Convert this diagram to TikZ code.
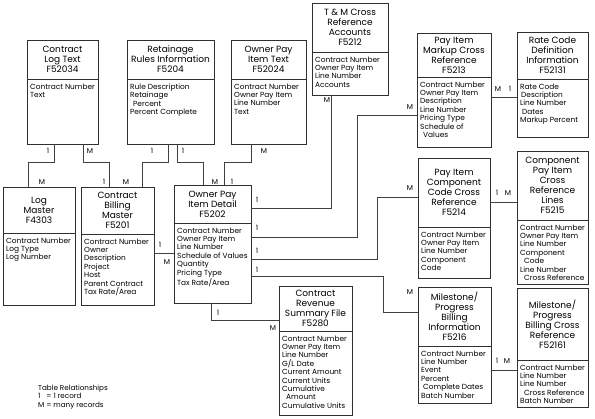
\documentclass[tikz,border=0pt]{standalone}
\usepackage{fontspec}
\setsansfont{Poppins}
\usepackage{xcolor}
\definecolor{Border}{HTML}{303030}
\definecolor{Wire}{HTML}{404040}
\usepackage{tikz}
\tikzset{
  every picture/.style={font={\sffamily}, >=stealth},
  tablebox/.style={draw=Border, line width=0.7pt, anchor=north west, inner sep=0pt, outer sep=0pt},
  tableline/.style={draw=Border, line width=0.7pt},
  tabletitle/.style={align=center, inner sep=0pt, font={\sffamily\fontsize{9}{10}\selectfont}},
  tablefields/.style={anchor=north west, align=left, inner xsep=3pt, inner ysep=4.5pt, font={\sffamily\fontsize{7.4}{8.4}\selectfont}},
  wire/.style={draw=Wire, line width=0.6pt},
  card/.style={inner sep=0pt, font={\sffamily\fontsize{7.2}{8}\selectfont}}}

% name, x, y, width, title height, height, title, fields
\newcommand{\dbtable}[8]{%
  \node[tablebox, minimum width=#4pt, minimum height=#6pt] (#1) at (#2,#3) {};
  \draw[tableline] ([yshift=-#5pt]#1.north west) -- ([yshift=-#5pt]#1.north east);
  \node[tabletitle] (#1-title) at ([yshift=-#5pt/2]#1.north) {#7};
  \node[tablefields] (#1-fields) at ([yshift=-#5pt]#1.north west) {#8};
}

\begin{document}
\begin{tikzpicture}[x=1pt, y=-1pt]
    \useasboundingbox (0,0) rectangle (595,419);

    % top row
    \dbtable{clt}{27}{40}{71}{39}{104}{Contract\\Log Text\\F52034}
      {Contract Number\\Text}
    \dbtable{rri}{127}{40}{87}{39}{104}{Retainage\\Rules Information\\F5204}
      {Rule Description\\Retainage\\\hspace*{3pt}Percent\\Percent Complete}
    \dbtable{opit}{231}{40}{75}{39}{104}{Owner Pay\\Item Text\\F52024}
      {Contract Number\\Owner Pay Item\\Line Number\\Text}
    \dbtable{tmx}{312}{3}{76}{49}{92}{T \& M Cross\\Reference\\Accounts\\F5212}
      {Contract Number\\Owner Pay Item\\Line Number\\Accounts}
    \dbtable{pim}{417}{33}{74}{44}{114}{Pay Item\\Markup Cross\\Reference\\F5213}
      {Contract Number\\Owner Pay Item\\Description\\Line Number\\Pricing Type\\Schedule of\\\hspace*{3pt}Values}
    \dbtable{rcd}{517}{32}{71}{47}{105}{Rate Code\\Definition\\Information\\F52131}
      {Rate Code\\\hspace*{1pt}Description\\Line Number\\\hspace*{2pt}Dates\\Markup Percent}

    % middle row
    \dbtable{lm}{3}{187}{72}{46}{118}{Log\\Master\\F4303}
      {Contract Number\\Log Type\\Log Number}
    \dbtable{cbm}{81}{187}{73}{47}{118}{Contract\\Billing\\Master\\F5201}
      {Contract Number\\Owner\\Description\\Project\\Host\\Parent Contract\\Tax Rate/Area}
    \dbtable{opid}{174}{185}{77}{38}{118}{Owner Pay\\Item Detail\\F5202}
      {Contract Number\\Owner Pay Item\\Line Number\\Schedule of Values\\Quantity\\Pricing Type\\Tax Rate/Area}
    \dbtable{picc}{418}{158}{72}{69}{120}{Pay Item\\Component\\Code Cross\\Reference\\F5214}
      {Contract Number\\Owner Pay Item\\Line Number\\Component\\Code}
    \dbtable{cpx}{517}{151}{71}{69}{133}{Component\\Pay Item\\Cross\\Reference\\Lines\\F5215}
      {Contract Number\\Owner Pay Item\\Line Number\\Component\\\hspace*{4pt}Code\\Line Number\\\hspace*{4pt}Cross Reference}

    % bottom row
    \dbtable{crs}{279}{286}{73}{45}{129}{Contract\\Revenue\\Summary File\\F5280}
      {Contract Number\\Owner Pay Item\\Line Number\\G/L Date\\Current Amount\\Current Units\\Cumulative\\\hspace*{4pt}Amount\\Cumulative Units}
    \dbtable{mpb}{418}{287}{73}{59}{116}{Milestone/\\Progress\\Billing\\Information\\F5216}
      {Contract Number\\Line Number\\Event\\Percent\\\hspace*{2pt}Complete Dates\\Batch Number}
    \dbtable{mpx}{517}{288}{71}{72}{119}{Milestone/\\Progress\\Billing Cross\\Reference\\F52161}
      {Contract Number\\Line Number\\Line Number\\\hspace*{4pt}Cross Reference\\Batch Number}

    % connectors
    \draw[wire] ([xshift=27pt]clt.south west) -- ++(0,18) -| ([xshift=25pt]lm.north west);
    \draw[wire] ([xshift=56pt]clt.south west) -- ++(0,18) -| ([xshift=28pt]cbm.north west);
    \draw[wire] ([xshift=41pt]rri.south west) -- ++(0,18) -| ([xshift=61pt]cbm.north west);
    \draw[wire] ([xshift=50pt]rri.south west) -- ++(0,18) -| ([xshift=29pt]opid.north west);
    \draw[wire] ([xshift=20pt]opit.south west) -- ++(0,18) -| ([xshift=50pt]opid.north west);

    \coordinate (cbm-r) at ([yshift=-66pt]cbm.north east);
    \draw[wire] (cbm-r) -- (cbm-r -| opid.west);

    \draw[wire] ([yshift=-23pt]opid.north east) -| ([xshift=19pt]tmx.south west);
    \draw[wire] ([yshift=-52pt]opid.north east) -- ++(106,0) |- ([yshift=-82pt]pim.north west);
    \draw[wire] ([yshift=-74pt]opid.north east) -- ++(126,0) |- ([yshift=-39pt]picc.north west);
    \draw[wire] ([yshift=-91pt]opid.north east) -- ++(132,0) |- ([yshift=-25pt]mpb.north west);
    \draw[wire] ([xshift=37pt]opid.south west) |- ([yshift=-34pt]crs.north west);

    \coordinate (pim-r) at ([yshift=-64pt]pim.north east);
    \draw[wire] (pim-r) -- (pim-r -| rcd.west);
    \coordinate (picc-r) at ([yshift=-44pt]picc.north east);
    \draw[wire] (picc-r) -- (picc-r -| cpx.west);
    \coordinate (mpb-r) at ([yshift=-83pt]mpb.north east);
    \draw[wire] (mpb-r) -- (mpb-r -| mpx.west);

    % cardinality marks
    \foreach \name/\x/\y/\mark in {c1a/48/151/1, c1b/42/182/M, c2a/90/151/M, c2b/104/182/1,
        c3a/152/151/1, c3b/126/182/M, c4a/183/151/1, c4b/215/182/M,
        c5a/264/151/M, c5b/232/182/1, c6a/160/245/1, c6b/167/262/M,
        c7a/257/200/1, c7b/327/100/M, c8a/257/228/1, c8b/410/107/M,
        c9a/257/251/1, c9b/410/188/M, c10a/257/270/1, c10b/410/292/M,
        c11a/218/313/1, c11b/273/328/M, c12a/498/89/M, c12b/510/89/1,
        c13a/497/193/1, c13b/508/193/M, c14a/497/361/1, c14b/507/361/M} {
      \node[card] (\name) at (\x,\y) {\mark};
    }

    \node[anchor=west, align=left, inner sep=0pt, font={\sffamily\fontsize{7.2}{8.5}\selectfont}] (legend) at (38,397)
      {Table Relationships\\1\hspace{4pt} = 1 record\\M = many records};
\end{tikzpicture}
\end{document}
